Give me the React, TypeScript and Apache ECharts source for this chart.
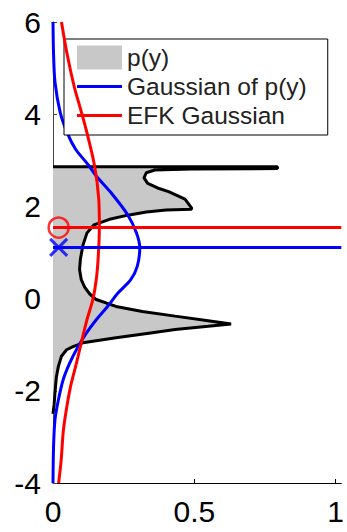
import React, { useEffect, useRef } from 'react';
import * as echarts from 'echarts';

// Axis ranges and tick values
const xMin = 0;
const xMax = 1.02;
const xTickValues = [0, 0.5, 1];
const yMin = -4;
const yMax = 6;
const yInterval = 2;

// p(y): outline of the density, listed from top to bottom as [p, y]
const pOutline: [number, number][] = [
  [0, 2.86], [0.794, 2.86], [0.794, 2.82], [0.49, 2.81], [0.36, 2.79],
  [0.33, 2.73], [0.322, 2.62], [0.335, 2.5], [0.37, 2.4], [0.409, 2.32],
  [0.467, 2.16], [0.49, 1.97], [0.49, 1.94], [0.4, 1.92], [0.33, 1.88],
  [0.265, 1.81], [0.2, 1.72], [0.145, 1.6], [0.12, 1.42], [0.106, 1.16],
  [0.097, 0.86], [0.094, 0.63], [0.1, 0.41], [0.112, 0.25], [0.13, 0.1],
  [0.153, -0.02], [0.19, -0.1], [0.223, -0.17], [0.316, -0.28], [0.432, -0.38],
  [0.549, -0.48], [0.63, -0.55], [0.549, -0.6], [0.432, -0.67], [0.339, -0.75],
  [0.223, -0.85], [0.106, -0.96], [0.071, -1.04], [0.048, -1.11], [0.03, -1.25],
  [0.019, -1.47], [0.012, -1.7], [0.007, -2.04], [0.004, -2.3], [0, -2.5],
];

// Gaussian of p(y), [p, y]
const gaussOfP: [number, number][] = [
  [0, 6.0], [0.002, 5.3], [0.007, 4.7], [0.025, 4.05], [0.05, 3.6],
  [0.08, 3.24], [0.125, 2.9], [0.153, 2.66], [0.205, 2.3], [0.263, 1.83],
  [0.295, 1.43], [0.307, 1.1], [0.298, 0.7], [0.275, 0.41], [0.23, 0.12],
  [0.193, -0.17], [0.153, -0.46], [0.118, -0.75], [0.089, -1.04], [0.059, -1.4],
  [0.036, -1.76], [0.019, -2.2], [0.007, -2.63], [0.002, -3.2], [0, -4.0],
];

// EFK Gaussian, [p, y]
const efkGaussian: [number, number][] = [
  [0.03, 6.0], [0.05, 5.3], [0.075, 4.6], [0.098, 4.1], [0.12, 3.6],
  [0.147, 2.88], [0.162, 2.15], [0.164, 1.54], [0.16, 0.9], [0.153, 0.41],
  [0.141, -0.02], [0.12, -0.46], [0.1, -0.96], [0.083, -1.4], [0.062, -1.91],
  [0.045, -2.49], [0.036, -2.9], [0.029, -3.5], [0.02, -4.0],
];

// Means and markers
const gaussMean = 1.11;
const efkMean = 1.54;
const markerX = 0.02;

const legendNames = ['p(y)', 'Gaussian of p(y)', 'EFK Gaussian'];

const FONT = "'Liberation Sans', Arial, Helvetica, sans-serif";

// legend line icon: a 3px bar across a 45x24 box (tiny corner marks fix the box size)
const LINE_ICON =
  'path://M0 0L0.01 0L0 0.01Z M0 10.5L45 10.5L45 13.5L0 13.5Z M45 24L44.99 24L45 23.99Z';

export default function App() {
  const ref = useRef<HTMLDivElement>(null);

  useEffect(() => {
    if (!ref.current) return;
    const chart = echarts.init(ref.current, null, { renderer: 'svg' });

    const fillPolygon: [number, number][] = [[0, pOutline[0][1]], ...pOutline, [0, pOutline[pOutline.length - 1][1]]];

    chart.setOption({
      animation: false,
      backgroundColor: '#ffffff',
      grid: { left: 53, right: 2, top: 22, bottom: 49, containLabel: false },
      legend: {
        data: [
          { name: legendNames[0], icon: 'rect' },
          { name: legendNames[1], icon: LINE_ICON },
          { name: legendNames[2], icon: LINE_ICON },
        ],
        orient: 'vertical',
        left: 64,
        top: 39,
        padding: [6, 21, 7, 13],
        itemWidth: 45,
        itemHeight: 24,
        itemGap: 4,
        itemTextGap: 14,
        symbolKeepAspect: false,
        backgroundColor: '#ffffff',
        borderColor: '#000000',
        borderWidth: 1,
        borderRadius: 0,
        selectedMode: false,
        textStyle: { fontFamily: FONT, fontSize: 24.5, color: '#222222' },
      },
      xAxis: {
        type: 'value',
        min: xMin,
        max: xMax,
        splitLine: { show: false },
        axisLine: { show: true, onZero: false, lineStyle: { color: '#000', width: 1 } },
        axisTick: { show: true, inside: true, length: 4, customValues: xTickValues, lineStyle: { color: '#000' } },
        axisLabel: {
          customValues: xTickValues,
          margin: 13,
          fontFamily: FONT,
          fontSize: 30,
          color: '#000',
          formatter: (v: number) => String(v),
        },
      },
      yAxis: {
        type: 'value',
        min: yMin,
        max: yMax,
        interval: yInterval,
        splitLine: { show: false },
        axisLine: { show: true, onZero: false, lineStyle: { color: '#444', width: 1 } },
        axisTick: { show: true, inside: true, length: 4, lineStyle: { color: '#444' } },
        axisLabel: { margin: 12, fontFamily: FONT, fontSize: 30, color: '#000' },
      },
      series: [
        {
          name: legendNames[0],
          type: 'custom',
          silent: true,
          itemStyle: { color: '#c8c8c8' },
          data: [[0, 0]],
          encode: { x: 0, y: 1 },
          renderItem: (params: any, api: any) => {
            if (params.dataIndex !== 0) return null;
            const pts = fillPolygon.map((p) => api.coord(p));
            return { type: 'polygon', shape: { points: pts }, style: { fill: '#c8c8c8', stroke: 'none' } };
          },
          z: 1,
        },
        {
          name: 'p(y) outline',
          type: 'line',
          data: pOutline,
          symbol: 'none',
          lineStyle: { color: '#000', width: 3 },
          silent: true,
          z: 2,
        },
        {
          name: legendNames[1],
          type: 'line',
          data: gaussOfP,
          symbol: 'none',
          smooth: 0.3,
          itemStyle: { color: '#0000ff' },
          lineStyle: { color: '#0000ff', width: 3 },
          silent: true,
          z: 3,
        },
        {
          name: legendNames[2],
          type: 'line',
          data: efkGaussian,
          symbol: 'none',
          smooth: 0.3,
          itemStyle: { color: '#ff0000' },
          lineStyle: { color: '#ff0000', width: 3 },
          silent: true,
          z: 4,
        },
        {
          name: 'gauss mean',
          type: 'line',
          data: [[xMin, gaussMean], [xMax, gaussMean]],
          symbol: 'none',
          lineStyle: { color: '#0000ff', width: 3 },
          silent: true,
          z: 5,
        },
        {
          name: 'efk mean',
          type: 'line',
          data: [[xMin, efkMean], [xMax, efkMean]],
          symbol: 'none',
          lineStyle: { color: '#ff0000', width: 3 },
          silent: true,
          z: 6,
        },
        {
          name: 'gauss marker',
          type: 'scatter',
          data: [[markerX, gaussMean]],
          symbol: 'path://M0 0L10 10M10 0L0 10',
          symbolSize: 17,
          clip: false,
          itemStyle: { color: 'none', borderColor: '#0000ff', borderWidth: 3 },
          silent: true,
          z: 7,
        },
        {
          name: 'efk marker',
          type: 'scatter',
          data: [[markerX, efkMean]],
          symbol: 'circle',
          symbolSize: 20,
          clip: false,
          itemStyle: { color: 'none', borderColor: '#ff0000', borderWidth: 2.5 },
          silent: true,
          z: 7,
        },
      ],
    });

    return () => chart.dispose();
  }, []);

  return (
    <div
      ref={ref}
      style={{ position: 'absolute', left: 0, top: 0, width: 347, height: 532, background: '#fff' }}
    />
  );
}
